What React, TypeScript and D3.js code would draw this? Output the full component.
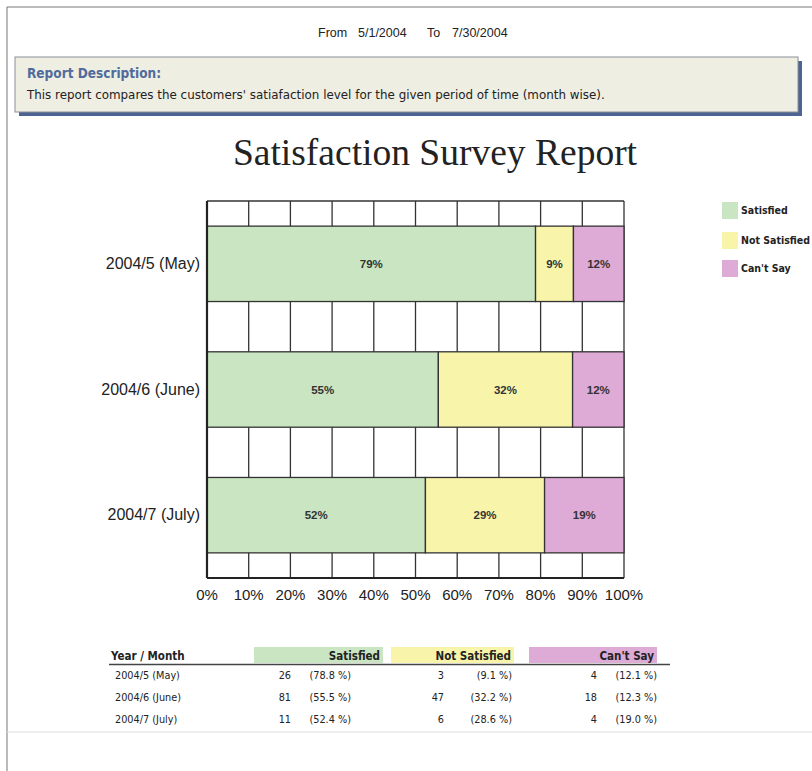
import React from "react";
import * as d3 from "d3";

const months = ["2004/5 (May)", "2004/6 (June)", "2004/7 (July)"];
const seriesNames = ["Satisfied", "Not Satisfied", "Can't Say"];
const satisfiedCounts = [26, 81, 11];
const notSatisfiedCounts = [3, 47, 6];
const cantSayCounts = [4, 18, 4];
const xTicks = [0, 10, 20, 30, 40, 50, 60, 70, 80, 90, 100];
const colors = ["#c9e5c1", "#f8f4aa", "#deaad6"];

const W = 812, H = 771;
const plot = { left: 207, right: 624, top: 201, bottom: 578 };

export default function App() {
  const x = d3.scaleLinear().domain([0, 100]).range([plot.left, plot.right]);
  const y = d3.scaleBand().domain(months).range([plot.top, plot.bottom]).paddingInner(0.4).paddingOuter(0.2);
  const countSeries = [satisfiedCounts, notSatisfiedCounts, cantSayCounts];
  const totals = months.map((_, i) => d3.sum(countSeries, (cs) => cs[i]));
  const pctSeries = countSeries.map((cs) => cs.map((v, i) => (v / totals[i]) * 100));
  const rows = months.map((m, i) => {
    const r: any = { month: m };
    seriesNames.forEach((s, j) => (r[s] = pctSeries[j][i]));
    return r;
  });
  const stacked = d3.stack().keys(seriesNames)(rows);

  const sans = "'Liberation Sans', Arial, sans-serif";
  const tahoma = "'DejaVu Sans Condensed', 'DejaVu Sans', sans-serif";

  const headerCells = [
    { x0: 254, x1: 383 },
    { x0: 391, x1: 514 },
    { x0: 529, x1: 657 },
  ];
  const countX = [291, 444, 597];
  const pctX = [351, 512, 657];
  const rowY = [679, 701, 723];

  return (
    <div style={{ position: "absolute", left: 0, top: 0 }}>
      <svg width={W} height={H} style={{ display: "block", background: "#fff" }}>
        {/* page frame */}
        <line x1={7} x2={W} y1={7} y2={7} stroke="#777" strokeWidth={1} />
        <line x1={7} x2={7} y1={7} y2={H} stroke="#777" strokeWidth={1} />
        <line x1={7} x2={W} y1={732} y2={732} stroke="#ddd" strokeWidth={1} />

        {/* date range */}
        <text y={37} fontFamily={sans} fontSize={12.5} fill="#222">
          <tspan x={318}>From</tspan>
          <tspan x={358}>5/1/2004</tspan>
          <tspan x={427}>To</tspan>
          <tspan x={452}>7/30/2004</tspan>
        </text>

        {/* description box */}
        <rect x={19} y={61} width={783} height={55} fill="#4d6391" />
        <rect x={15} y={57} width={783} height={55} fill="#efeee2" stroke="#8a8f99" strokeWidth={1} />
        <text x={27} y={78} fontFamily={tahoma} fontWeight="bold" fontSize={13.5} fill="#4f6b9c">Report Description:</text>
        <text x={27} y={99} fontFamily="'DejaVu Sans', sans-serif" fontSize={11.9} fill="#222">This report compares the customers' satiafaction level for the given period of time (month wise).</text>

        {/* title */}
        <text x={435} y={165} textAnchor="middle" fontFamily="'Liberation Serif', 'Times New Roman', serif" fontSize={37.5} fill="#222">Satisfaction Survey Report</text>

        {/* grid */}
        {xTicks.map((t) => (
          <line key={"g" + t} x1={x(t)} x2={x(t)} y1={plot.top} y2={plot.bottom} stroke="#333" strokeWidth={1.3} />
        ))}
        <line x1={plot.left} x2={plot.right} y1={plot.top} y2={plot.top} stroke="#333" strokeWidth={1.3} />

        {/* bars */}
        {stacked.map((layer, j) =>
          layer.map((d, i) => (
            <rect key={j + "-" + i} x={x(d[0])} y={y(months[i])} width={x(d[1]) - x(d[0])} height={y.bandwidth()} fill={colors[j]} stroke="#333" strokeWidth={1.3} />
          ))
        )}
        {stacked.map((layer, j) =>
          layer.map((d, i) => (
            <text key={"l" + j + "-" + i} x={(x(d[0]) + x(d[1])) / 2} y={(y(months[i]) as number) + y.bandwidth() / 2 + 4} textAnchor="middle" fontFamily={sans} fontWeight="bold" fontSize={11.5} fill="#333">
              {Math.round(pctSeries[j][i])}%
            </text>
          ))
        )}

        {/* axes */}
        <line x1={plot.left} x2={plot.left} y1={plot.top} y2={plot.bottom} stroke="#222" strokeWidth={2.2} />
        <line x1={plot.left} x2={plot.right} y1={plot.bottom} y2={plot.bottom} stroke="#222" strokeWidth={2.2} />
        {xTicks.map((t) => (
          <text key={"xt" + t} x={x(t)} y={600} textAnchor="middle" fontFamily={sans} fontSize={15} fill="#222">{t}%</text>
        ))}
        {months.map((m) => (
          <text key={"yl" + m} x={200} y={(y(m) as number) + y.bandwidth() / 2 + 5} textAnchor="end" fontFamily={sans} fontSize={16} fill="#222">{m}</text>
        ))}

        {/* legend */}
        {seriesNames.map((s, j) => (
          <g key={"lg" + s} transform={`translate(722, ${[202, 232, 260][j]})`}>
            <rect width={16} height={17} fill={colors[j]} />
            <text x={19} y={12} fontFamily={tahoma} fontWeight="bold" fontSize={10.5} fill="#222">{s}</text>
          </g>
        ))}

        {/* table */}
        {headerCells.map((c, j) => (
          <g key={"hc" + j}>
            <rect x={c.x0} y={647} width={c.x1 - c.x0} height={16} fill={colors[j]} />
            <text x={c.x1 - 3} y={660} textAnchor="end" fontFamily={tahoma} fontWeight="bold" fontSize={11.5} fill="#222">{seriesNames[j]}</text>
          </g>
        ))}
        <text x={111} y={660} fontFamily={tahoma} fontWeight="bold" fontSize={11.5} fill="#222">Year / Month</text>
        <line x1={109} x2={670} y1={664.5} y2={664.5} stroke="#444" strokeWidth={1.5} />
        {months.map((m, i) => (
          <g key={"row" + i} fontFamily={tahoma} fontSize={10.8} fill="#222">
            <text x={115} y={rowY[i]}>{m}</text>
            {countSeries.map((cs, j) => (
              <g key={"c" + j}>
                <text x={countX[j]} y={rowY[i]} textAnchor="end">{cs[i]}</text>
                <text x={pctX[j]} y={rowY[i]} textAnchor="end">({pctSeries[j][i].toFixed(1)} %)</text>
              </g>
            ))}
          </g>
        ))}
      </svg>
    </div>
  );
}
